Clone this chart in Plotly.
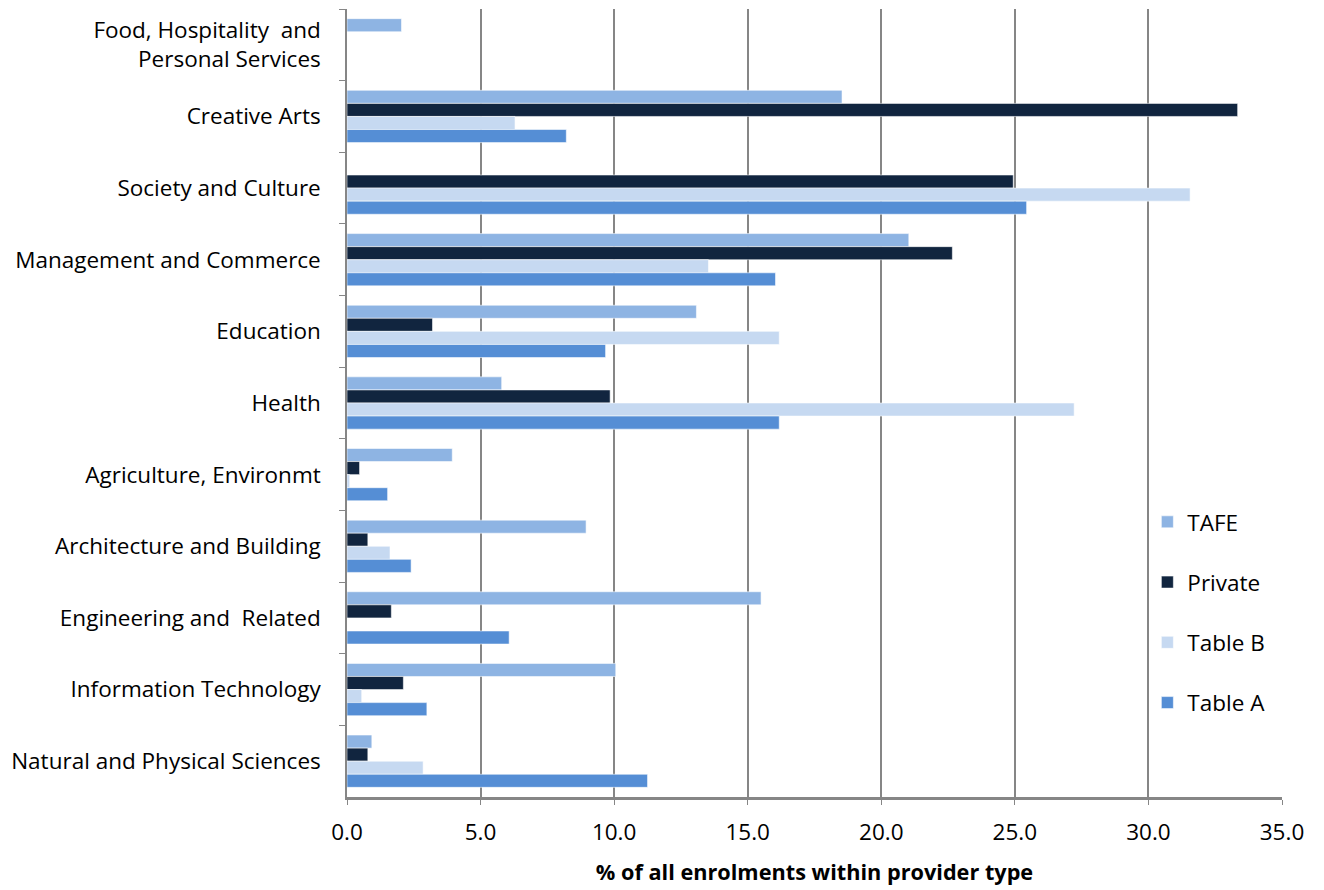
import plotly.graph_objects as go

# categories listed top to bottom
categories = [
    "Food, Hospitality  and<br>Personal Services",
    "Creative Arts",
    "Society and Culture",
    "Management and Commerce",
    "Education",
    "Health",
    "Agriculture, Environmt",
    "Architecture and Building",
    "Engineering and  Related",
    "Information Technology",
    "Natural and Physical Sciences",
]

tafe    = [2.04, 18.53, 0.0, 21.03, 13.08, 5.79, 3.94, 8.95, 15.50, 10.06, 0.93]
private = [0.0, 33.34, 24.94, 22.66, 3.20, 9.85, 0.47, 0.78, 1.66, 2.11, 0.78]
table_b = [0.0, 6.29, 31.56, 13.53, 16.18, 27.22, 0.10, 1.61, 0.0, 0.55, 2.85]
table_a = [0.0, 8.21, 25.44, 16.04, 9.68, 16.18, 1.52, 2.40, 6.07, 2.99, 11.25]

x_ticks = [0, 5, 10, 15, 20, 25, 30, 35]
x_tick_labels = ["0.0", "5.0", "10.0", "15.0", "20.0", "25.0", "30.0", "35.0"]

FONT = "'Open Sans', sans-serif"
FS = 22.5

series = [
    ("TAFE", tafe, "#8EB4E3"),
    ("Private", private, "#11253F"),
    ("Table B", table_b, "#C6D9F1"),
    ("Table A", table_a, "#558ED5"),
]

fig = go.Figure()
for name, vals, col in series:
    fig.add_trace(go.Bar(
        y=categories, x=vals, name=name, orientation="h",
        marker=dict(color=col, line=dict(color="rgba(255,255,255,0.55)", width=1)),
        legendgroup=name,
    ))

fig.update_layout(
    width=1324, height=890,
    margin=dict(l=347, r=42, t=9, b=93, autoexpand=False),
    paper_bgcolor="white", plot_bgcolor="white",
    barmode="group", bargap=0.27, bargroupgap=0,
    font=dict(family=FONT, size=FS, color="#000000"),
    showlegend=True,
    legend=dict(
        x=0.856, y=0.376, xanchor="left", yanchor="top",
        traceorder="grouped", tracegroupgap=28,
        font=dict(family=FONT, size=FS, color="#000000"),
        bgcolor="rgba(0,0,0,0)", itemwidth=30,
    ),
)

fig.update_xaxes(
    range=[0, 35], tickvals=x_ticks, ticktext=x_tick_labels,
    showgrid=True, gridcolor="#868686", gridwidth=1.5,
    showline=True, linecolor="#868686", linewidth=2.5,
    ticks="outside", ticklen=5, tickcolor="#868686",
    ticklabelstandoff=8,
    tickfont=dict(family=FONT, size=FS, color="#000000"),
    title=dict(text="<b>% of all enrolments within provider type</b>",
               font=dict(family=FONT, size=21.7, color="#000000"), standoff=20),
    zeroline=False, automargin=False,
)

fig.update_yaxes(
    categoryorder="array", categoryarray=categories, autorange="reversed",
    showline=True, linecolor="#868686", linewidth=1.5,
    ticks="outside", ticklen=6, tickcolor="#868686", tickson="boundaries",
    ticklabelstandoff=20,
    tickfont=dict(family=FONT, size=FS, color="#000000"),
    showgrid=False, automargin=False,
)

fig.write_html("out.html", config={"displayModeBar": False},
               post_script="document.body.style.margin='0px';")
